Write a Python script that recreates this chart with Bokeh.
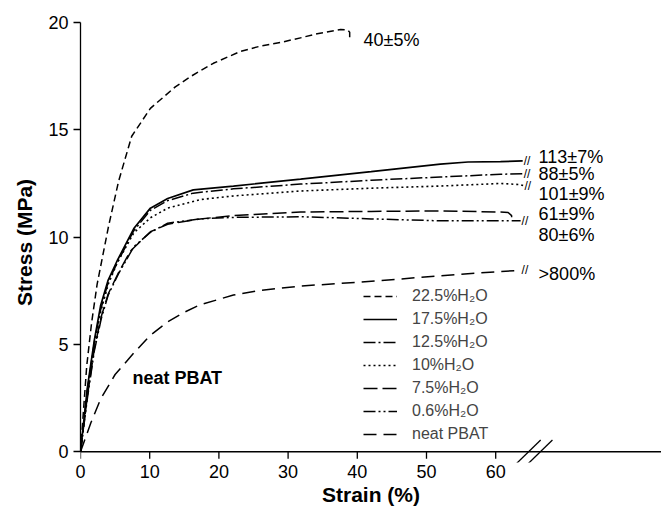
from bokeh.plotting import figure
from bokeh.models import Range1d, FixedTicker, Legend, LegendItem, Span, ColumnDataSource
from bokeh.core.properties import value
from bokeh.embed import file_html
from bokeh.resources import INLINE

FONT = "Liberation Sans"

# ---- data (strain %, stress MPa) ----
strain_225 = [0, 0.9, 1.6, 2.4, 4.05, 5.5, 7.4, 10.1, 13.7, 16, 19.2, 23.1, 26, 29.3, 32, 34.2, 37.6, 38.6, 38.9, 38.9]
stress_225 = [0, 4.0, 6.0, 7.8, 10.5, 12.6, 14.7, 16.0, 17.0, 17.5, 18.1, 18.65, 18.9, 19.1, 19.3, 19.48, 19.67, 19.65, 19.55, 19.3]

strain_175 = [0, 1, 2, 2.9, 4, 5.3, 7.7, 10.1, 12.6, 16.3, 22.1, 31.8, 42, 52, 56, 60.7, 63.9]
stress_175 = [0, 3.0, 5.2, 6.8, 8.0, 8.9, 10.4, 11.35, 11.8, 12.2, 12.38, 12.7, 13.05, 13.4, 13.5, 13.52, 13.55]

strain_125 = [0, 1, 2, 2.9, 4, 5.3, 7.7, 10.1, 12.6, 16.3, 22.1, 31.8, 42, 52, 60.7, 63.9]
stress_125 = [0, 2.9, 5.1, 6.6, 7.9, 8.8, 10.3, 11.25, 11.7, 12.05, 12.25, 12.47, 12.65, 12.8, 12.93, 12.95]

strain_10 = [0, 1, 2, 2.9, 4, 5.3, 7.7, 10.1, 12.6, 17.3, 22.1, 31.8, 42, 52, 60.7, 63.5, 64.0]
stress_10 = [0, 2.8, 5.0, 6.5, 7.8, 8.8, 10.2, 10.9, 11.35, 11.75, 11.92, 12.15, 12.28, 12.38, 12.5, 12.45, 12.4]

strain_75 = [0, 1, 2, 3, 4, 5.5, 7.2, 10.1, 12.6, 17.3, 22.1, 31.8, 42, 52, 60.7, 61.8, 62.3, 62.3, 62.0]
stress_75 = [0, 2.6, 4.8, 6.3, 7.35, 8.35, 9.35, 10.25, 10.6, 10.85, 11.0, 11.17, 11.2, 11.22, 11.17, 11.15, 11.0, 10.85, 10.75]

strain_06 = [0, 1, 2, 3, 4, 5.5, 7.7, 10, 12.6, 17.3, 22.1, 31.8, 42, 52, 60.7, 63.6]
stress_06 = [0, 2.5, 4.7, 6.2, 7.3, 8.3, 9.55, 10.2, 10.65, 10.85, 10.92, 10.95, 10.85, 10.76, 10.76, 10.76]

strain_neat = [0, 1.5, 2.9, 5, 7.7, 10, 12.6, 15, 17.3, 22.1, 26, 31.8, 40, 46.2, 52, 60.7, 63.6]
stress_neat = [0, 1.35, 2.45, 3.6, 4.6, 5.4, 6.05, 6.5, 6.85, 7.3, 7.52, 7.72, 7.9, 8.05, 8.2, 8.4, 8.45]

series_names = ["22.5%H\u2082O", "17.5%H\u2082O", "12.5%H\u2082O", "10%H\u2082O",
                "7.5%H\u2082O", "0.6%H\u2082O", "neat PBAT"]

end_labels = ["40\u00b15%", "113\u00b17%", "88\u00b15%", "101\u00b19%", "61\u00b19%", "80\u00b16%", ">800%"]
end_label_x = [40.9, 66.2, 66.2, 66.2, 66.2, 66.2, 66.2]
end_label_y = [19.2, 13.75, 12.93, 12.0, 11.08, 10.1, 8.3]

x_ticks = [0, 10, 20, 30, 40, 50, 60]
y_ticks = [0, 5, 10, 15, 20]

# ---- figure ----
p = figure(width=661, height=508, output_backend="svg", toolbar_location=None,
           x_range=Range1d(0, 83.96), y_range=Range1d(-0.5, 20),
           min_border_left=80, min_border_right=0, min_border_top=22, min_border_bottom=40)
p.outline_line_color = None
p.grid.visible = False

xa = p.xaxis[0]
ya = p.yaxis[0]

ya.ticker = FixedTicker(ticks=y_ticks)
ya.bounds = (0, 20)
ya.major_tick_in = 0
ya.major_tick_out = 7
ya.minor_tick_in = 0
ya.minor_tick_out = 0
ya.axis_line_width = 1.3
ya.major_tick_line_width = 1.3
ya.major_label_standoff = 5
ya.axis_label = "Stress (MPa)"
ya.axis_label_standoff = 9

xa.ticker = FixedTicker(ticks=x_ticks)
xa.axis_line_color = None
xa.major_tick_line_color = None
xa.major_tick_in = 0
xa.major_tick_out = 0
xa.minor_tick_in = 0
xa.minor_tick_out = 0
xa.major_label_standoff = 2
xa.axis_label = "Strain (%)"
xa.axis_label_standoff = 2

for ax in (xa, ya):
    ax.major_label_text_font = FONT
    ax.major_label_text_font_size = "18px"
    ax.major_label_text_color = "black"
    ax.axis_label_text_font = FONT
    ax.axis_label_text_font_size = "21px"
    ax.axis_label_text_font_style = "bold"
    ax.axis_label_text_color = "black"

# x-axis line at stress 0 and its ticks
p.add_layout(Span(location=0, dimension="width", line_color="black", line_width=1.3))
p.segment(x0=x_ticks, y0=[0] * len(x_ticks), x1=x_ticks, y1=[-0.32] * len(x_ticks),
          line_color="black", line_width=1.3)

styles = [
    dict(line_dash="7 4", line_width=1.5),
    dict(line_dash="solid", line_width=1.7),
    dict(line_dash="12 3 2 3", line_width=1.5),
    dict(line_dash="2 3", line_width=1.6),
    dict(line_dash="14 5", line_width=1.5),
    dict(line_dash="12 3 2 3 2 3", line_width=1.5),
    dict(line_dash="13 7", line_width=1.5),
]
xs = [strain_225, strain_175, strain_125, strain_10, strain_75, strain_06, strain_neat]
ys = [stress_225, stress_175, stress_125, stress_10, stress_75, stress_06, stress_neat]

items = []
for name, x, y, st in zip(series_names, xs, ys, styles):
    r = p.line(x, y, line_color="black", **st)
    items.append(LegendItem(label=name, renderers=[r]))

legend = Legend(items=items, location=(283, 18), orientation="vertical",
                border_line_color=None, background_fill_alpha=0,
                padding=0, margin=0, spacing=3, label_height=20, glyph_height=20,
                glyph_width=34, label_standoff=15,
                label_text_font=FONT, label_text_font_size="16px", label_text_color="#444444")
p.add_layout(legend)

# break marks at curve ends
marked = [1, 2, 3, 5, 6]
brk = ColumnDataSource(dict(x=[xs[i][-1] for i in marked], y=[ys[i][-1] for i in marked],
                            t=["//"] * len(marked)))
p.text(x="x", y="y", text="t", source=brk, x_offset=1, text_font=value(FONT),
       text_font_size="12px", text_baseline="middle", text_align="left", text_color="black")

# end labels
p.text(x=end_label_x, y=end_label_y, text=end_labels, text_font=value(FONT),
       text_font_size="18px", text_baseline="middle", text_align="left", text_color="black")

# neat PBAT label
p.text(x=[7.5], y=[3.42], text=["neat PBAT"], text_font=value(FONT), text_font_style="bold",
       text_font_size="18px", text_baseline="middle", text_align="left", text_color="black")

# x-axis break mark
bx = 65.6
p.segment(x0=[bx - 0.85 - 1.75, bx + 0.85 - 1.75], y0=[-0.55, -0.55],
          x1=[bx - 0.85 + 1.75, bx + 0.85 + 1.75], y1=[0.55, 0.55],
          line_color="black", line_width=1.3)

open("out.html", "w").write(file_html(p, INLINE))
